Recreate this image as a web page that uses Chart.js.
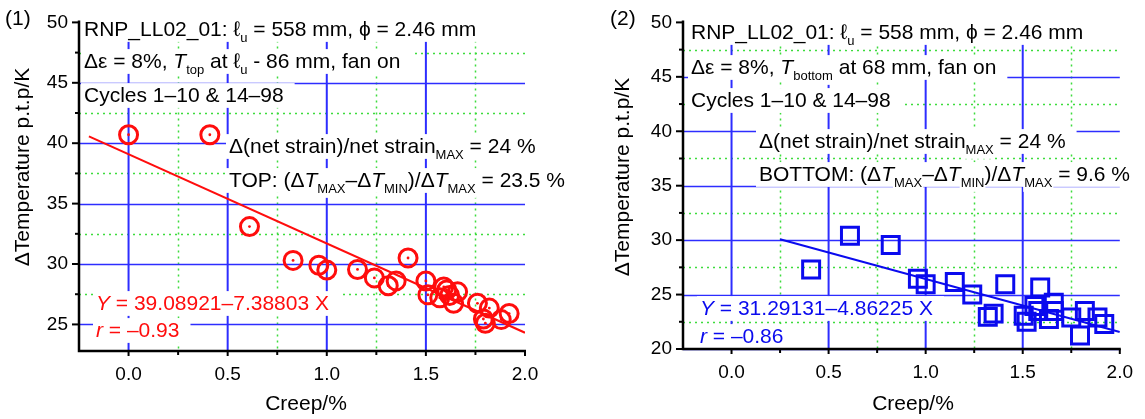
<!DOCTYPE html>
<html lang="en">
<head>
<meta charset="UTF-8">
<title>ΔTemperature p.t.p vs creep</title>
<script src="https://cdn.jsdelivr.net/npm/chart.js"></script>
<style>
  body { margin: 0; background: #fff; width: 1145px; height: 419px; position: relative; overflow: hidden; }
  canvas { position: absolute; top: 0; }
  #c1 { left: 0; }
  #c2 { left: 572px; }
</style>
</head>
<body>
<canvas id="c1" width="600" height="419"></canvas>
<canvas id="c2" width="573" height="419"></canvas>
<script>
// (1) T_top at l_u - 86 mm
const creepTop = [0.00, 0.41, 0.61, 0.83, 0.96, 1.00, 1.155, 1.24, 1.31, 1.35, 1.41, 1.50, 1.51, 1.57, 1.59, 1.605, 1.62, 1.64, 1.66, 1.76, 1.79, 1.80, 1.82, 1.88, 1.92];
const dTempTop = [40.7, 40.7, 33.1, 30.3, 29.9, 29.5, 29.55, 28.85, 28.2, 28.6, 30.5, 28.6, 27.45, 27.2, 28.1, 27.85, 27.4, 26.75, 27.7, 26.75, 25.45, 25.1, 26.35, 25.4, 25.9];
const fitTop = [39.08921, -7.38803];   // Y = a + b X
const fitTopX = [-0.2, 2.0];

// (2) T_bottom at 68 mm
const creepBottom = [0.41, 0.61, 0.82, 0.96, 1.00, 1.15, 1.24, 1.32, 1.35, 1.41, 1.505, 1.52, 1.56, 1.58, 1.59, 1.635, 1.66, 1.66, 1.75, 1.795, 1.82, 1.885, 1.92];
const dTempBottom = [27.3, 30.4, 29.55, 26.45, 25.95, 26.15, 25.0, 22.95, 23.25, 25.95, 23.05, 22.5, 23.95, 23.5, 25.65, 22.75, 24.25, 23.5, 22.9, 21.25, 23.5, 22.9, 22.3];
const fitBottom = [31.29131, -4.86225];
const fitBottomX = [0.25, 2.0];

const xTicks = [0, 0.5, 1.0, 1.5, 2.0];
const xMinor = [0.25, 0.75, 1.25, 1.75];
const yTicksTop = [25, 30, 35, 40, 45, 50];
const yTicksBottom = [20, 25, 30, 35, 40, 45, 50];

const FAMILY = '"Liberation Sans", Arial, Helvetica, sans-serif';
const RED = '#ff0d0d';
const BLUE = '#0a0aee';
const TEXT = 21;

const pts = (xs, ys) => xs.map((x, i) => ({ x, y: ys[i] }));
const fitPts = (xs, c) => xs.map(x => ({ x, y: c[0] + c[1] * x }));

// text with italic / subscript runs on an opaque white box
function drawRich(ctx, x, y, parts, size, color) {
  const sub = Math.round(size * 0.62);
  let cx = x;
  const runs = parts.map(([t, st]) => {
    const isSub = st.includes('s');
    const fs = isSub ? sub : size;
    const font = (st.includes('i') ? 'italic ' : '') + fs + 'px ' + FAMILY;
    ctx.font = font;
    const w = ctx.measureText(t).width;
    const r = { t, font, x: cx, w, fs, dy: isSub ? size * 0.3 : 0 };
    cx += w;
    return r;
  });
  ctx.fillStyle = '#fff';
  ctx.fillRect(x - 3, y - size * 0.9, cx - x + 14, size * 1.18);
  runs.forEach(r => { if (r.dy) ctx.fillRect(r.x - 1, y + r.dy - r.fs * 0.9, r.w + 2, r.fs * 1.25); });
  ctx.fillStyle = color;
  ctx.textAlign = 'left';
  ctx.textBaseline = 'alphabetic';
  runs.forEach(r => { ctx.font = r.font; ctx.fillText(r.t, r.x, y + r.dy); });
}

function framePlugin(o) {
  return {
    id: 'frame',
    beforeDatasetsDraw(chart) {
      const { ctx, chartArea: a, scales: { x, y } } = chart;
      ctx.save();
      // minor grid, green dotted
      ctx.strokeStyle = '#3ddc3d';
      ctx.lineWidth = 1.5;
      ctx.setLineDash([2, 4]);
      xMinor.forEach(v => {
        const px = Math.round(x.getPixelForValue(v)) + 0.5;
        ctx.beginPath(); ctx.moveTo(px, a.top); ctx.lineTo(px, a.bottom); ctx.stroke();
      });
      o.yMinor.forEach(v => {
        const py = Math.round(y.getPixelForValue(v)) + 0.5;
        ctx.beginPath(); ctx.moveTo(a.left, py); ctx.lineTo(a.right, py); ctx.stroke();
      });
      // major grid, blue
      ctx.setLineDash([]);
      ctx.strokeStyle = '#2d2dff';
      ctx.lineWidth = 2;
      xTicks.filter(v => v < 2).forEach(v => {
        const px = x.getPixelForValue(v);
        ctx.beginPath(); ctx.moveTo(px, a.top); ctx.lineTo(px, a.bottom); ctx.stroke();
      });
      ctx.lineWidth = 1.5;
      o.yTicks.filter(v => v < 50).forEach(v => {
        const py = Math.round(y.getPixelForValue(v)) + 0.5;
        ctx.beginPath(); ctx.moveTo(a.left, py); ctx.lineTo(a.right, py); ctx.stroke();
      });

      // annotations
      o.notes.forEach(n => drawRich(ctx, n.x - o.ox, n.y, n.parts, TEXT, n.color || '#000'));

      // axes and tick marks
      ctx.strokeStyle = '#000';
      ctx.lineWidth = 2.5;
      ctx.beginPath();
      ctx.moveTo(a.left, a.top - 2); ctx.lineTo(a.left, a.bottom); ctx.lineTo(a.right + 1, a.bottom);
      ctx.stroke();
      ctx.lineWidth = 2;
      o.yTicks.forEach(v => {
        const py = y.getPixelForValue(v);
        ctx.beginPath(); ctx.moveTo(a.left - 7, py); ctx.lineTo(a.left, py); ctx.stroke();
      });
      o.yMinor.forEach(v => {
        const py = y.getPixelForValue(v);
        ctx.beginPath(); ctx.moveTo(a.left - 4, py); ctx.lineTo(a.left + 1, py); ctx.stroke();
      });
      xTicks.forEach(v => {
        const px = x.getPixelForValue(v);
        ctx.beginPath(); ctx.moveTo(px, a.bottom); ctx.lineTo(px, a.bottom + 5); ctx.stroke();
      });
      xMinor.forEach(v => {
        const px = x.getPixelForValue(v);
        ctx.beginPath(); ctx.moveTo(px, a.bottom); ctx.lineTo(px, a.bottom + 4); ctx.stroke();
      });

      // titles and panel tag
      ctx.fillStyle = '#000';
      ctx.font = TEXT + 'px ' + FAMILY;
      ctx.textBaseline = 'alphabetic';
      ctx.textAlign = 'left';
      ctx.fillText(o.tag, o.tagX - o.ox, 25);
      ctx.textAlign = 'center';
      ctx.fillText('Creep/%', o.xTitleX - o.ox, 410);
      ctx.save();
      ctx.translate(o.yTitleX - o.ox, o.yTitleY);
      ctx.rotate(-Math.PI / 2);
      ctx.fillText('ΔTemperature p.t.p/K', 0, 0);
      ctx.restore();
      ctx.restore();
    }
  };
}

function makeChart(id, o) {
  const datasets = [
    { data: pts(o.xs, o.ys), pointStyle: o.pointStyle, pointRadius: o.r, borderColor: o.color,
      backgroundColor: 'rgba(0,0,0,0)', borderWidth: 3 }
  ];
  if (o.dots) {
    datasets.push({ data: pts(o.xs, o.ys), pointRadius: 1.4, backgroundColor: o.color, borderWidth: 0 });
  }
  datasets.push({ data: fitPts(o.fitX, o.fit), showLine: true, pointRadius: 0,
    borderColor: o.color, borderWidth: 2 });

  return new Chart(document.getElementById(id), {
    type: 'scatter',
    data: { datasets },
    options: {
      responsive: false,
      animation: false,
      layout: { padding: o.padding },
      plugins: { legend: { display: false }, tooltip: { enabled: false } },
      scales: {
        x: {
          type: 'linear', min: -0.25, max: 2.0,
          afterFit: s => { s.height = o.xAxisH; },
          afterBuildTicks: s => { s.ticks = xTicks.map(v => ({ value: v })); },
          grid: { display: false, drawTicks: false },
          border: { display: false },
          ticks: { color: '#000', padding: 12, maxRotation: 0, autoSkip: false,
            font: { family: FAMILY, size: 19 }, callback: v => v.toFixed(1) }
        },
        y: {
          type: 'linear', min: o.yMin, max: 50,
          afterFit: s => { s.width = o.yAxisW; },
          afterBuildTicks: s => { s.ticks = o.yTicks.map(v => ({ value: v })); },
          grid: { display: false, drawTicks: false },
          border: { display: false },
          ticks: { color: '#000', padding: 11, autoSkip: false,
            font: { family: FAMILY, size: 19 }, callback: v => String(v) }
        }
      }
    },
    plugins: [framePlugin(o)]
  });
}

makeChart('c1', {
  xs: creepTop, ys: dTempTop, fit: fitTop, fitX: fitTopX,
  color: RED, pointStyle: 'circle', r: 9, dots: true,
  yMin: 22.8, yTicks: yTicksTop, yMinor: [27.5, 32.5, 37.5, 42.5, 47.5],
  padding: { left: 0, right: 75, top: 17, bottom: 0 }, yAxisW: 79, xAxisH: 68,
  ox: 0, tag: '(1)', tagX: 5, xTitleX: 306, yTitleX: 29, yTitleY: 167,
  notes: [
    { x: 84, y: 36, parts: [['RNP_LL02_01: ', ''], ['ℓ', ''], ['u', 's'], [' = 558 mm, ϕ = 2.46 mm', '']] },
    { x: 84, y: 68, parts: [['Δε = 8%, ', ''], ['T', 'i'], ['top', 's'], [' at ', ''], ['ℓ', ''], ['u', 's'], [' - 86 mm, fan on', '']] },
    { x: 84, y: 102, parts: [['Cycles 1–10 & 14–98', '']] },
    { x: 229, y: 153, parts: [['Δ(net strain)/net strain', ''], ['MAX', 's'], [' = 24 %', '']] },
    { x: 229, y: 187, parts: [['TOP: (Δ', ''], ['T', 'i'], ['MAX', 's'], ['–Δ', ''], ['T', 'i'], ['MIN', 's'], [')/Δ', ''], ['T', 'i'], ['MAX', 's'], [' = 23.5 %', '']] },
    { x: 96, y: 310, color: RED, parts: [['Y', 'i'], [' = 39.08921–7.38803 X', '']] },
    { x: 96, y: 337, color: RED, parts: [['r', 'i'], [' = –0.93', '']] }
  ]
});

makeChart('c2', {
  xs: creepBottom, ys: dTempBottom, fit: fitBottom, fitX: fitBottomX,
  color: BLUE, pointStyle: 'rect', r: 12, dots: false,
  yMin: 20, yTicks: yTicksBottom, yMinor: [22.5, 27.5, 32.5, 37.5, 42.5, 47.5],
  padding: { left: 0, right: 16, top: 17, bottom: 0 }, yAxisW: 111, xAxisH: 70,
  ox: 572, tag: '(2)', tagX: 610, xTitleX: 913, yTitleX: 629, yTitleY: 177,
  notes: [
    { x: 691, y: 39, parts: [['RNP_LL02_01: ', ''], ['ℓ', ''], ['u', 's'], [' = 558 mm, ϕ = 2.46 mm', '']] },
    { x: 691, y: 74, parts: [['Δε = 8%, ', ''], ['T', 'i'], ['bottom', 's'], [' at 68 mm, fan on', '']] },
    { x: 691, y: 107, parts: [['Cycles 1–10 & 14–98', '']] },
    { x: 759, y: 148, parts: [['Δ(net strain)/net strain', ''], ['MAX', 's'], [' = 24 %', '']] },
    { x: 759, y: 181, parts: [['BOTTOM: (Δ', ''], ['T', 'i'], ['MAX', 's'], ['–Δ', ''], ['T', 'i'], ['MIN', 's'], [')/Δ', ''], ['T', 'i'], ['MAX', 's'], [' = 9.6 %', '']] },
    { x: 700, y: 315, color: BLUE, parts: [['Y', 'i'], [' = 31.29131–4.86225 X', '']] },
    { x: 700, y: 343, color: BLUE, parts: [['r', 'i'], [' = –0.86', '']] }
  ]
});
</script>
</body>
</html>
